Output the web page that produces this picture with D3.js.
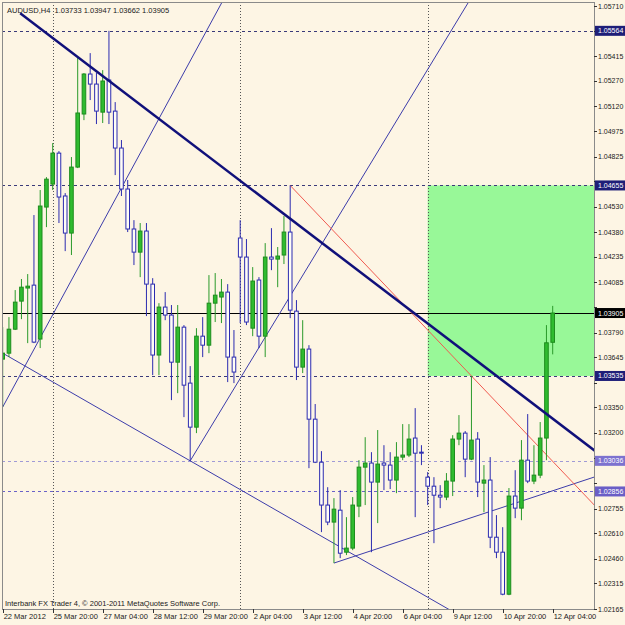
<!DOCTYPE html>
<html>
<head>
<meta charset="utf-8">
<script src="https://cdnjs.cloudflare.com/ajax/libs/d3/7.8.5/d3.min.js"></script>
<style>
    body { margin: 0; background: #fdf5e4; }
    svg { display: block; }
    text { font-family: "Liberation Sans", Arial, sans-serif; font-size: 7.5px; fill: #1a1a1a; white-space: pre; }
    .price { font-size: 7px; }
</style>
</head>
<body>
<svg width="625" height="625"></svg>
<script>
// AUDUSD H4 bars, oldest first (22 Mar 2012 .. 12 Apr 2012 04:00)
var barOpen = [1.03634, 1.03669, 1.03810, 1.03975, 1.04052, 1.04069, 1.03752, 1.04528, 1.04663, 1.04845,
    1.04593, 1.04375, 1.04763, 1.05075, 1.05310, 1.05251, 1.05086, 1.05275, 1.05092, 1.04875,
    1.04634, 1.04399, 1.04263, 1.04387, 1.04075, 1.03658, 1.03940, 1.03893, 1.03616, 1.03822,
    1.03493, 1.03234, 1.03769, 1.03716, 1.03963, 1.03999, 1.04028, 1.03646, 1.04346, 1.04234,
    1.03816, 1.04099, 1.03769, 1.04234, 1.04222, 1.04246, 1.04381, 1.03916, 1.03587, 1.03693,
    1.03281, 1.03028, 1.02776, 1.02676, 1.02746, 1.02499, 1.02523, 1.02770, 1.02999, 1.03023,
    1.02911, 1.03023, 1.03011, 1.02923, 1.03058, 1.03070, 1.03170, 1.03087, 1.02940, 1.02887,
    1.02834, 1.02823, 1.02917, 1.03164, 1.03199, 1.03046, 1.03164, 1.02905, 1.02923, 1.02587,
    1.02499, 1.02252, 1.02829, 1.02758, 1.03040, 1.02917, 1.02952, 1.03170, 1.03733];
var barHigh = [1.03822, 1.03881, 1.04040, 1.04105, 1.04134, 1.04481, 1.04628, 1.04704, 1.04904, 1.04857,
    1.04610, 1.04822, 1.05410, 1.05316, 1.05433, 1.05316, 1.05333, 1.05564, 1.05145, 1.04922,
    1.04687, 1.04451, 1.04434, 1.04434, 1.04110, 1.03963, 1.04028, 1.03952, 1.03952, 1.03834,
    1.03593, 1.03816, 1.03881, 1.04128, 1.04140, 1.04105, 1.04075, 1.03805, 1.04451, 1.04340,
    1.04175, 1.04116, 1.04316, 1.04404, 1.04293, 1.04475, 1.04655, 1.03981, 1.03863, 1.03716,
    1.03370, 1.03093, 1.02881, 1.02817, 1.02864, 1.02705, 1.02823, 1.03040, 1.03175, 1.03087,
    1.03217, 1.03128, 1.03087, 1.03146, 1.03252, 1.03252, 1.03346, 1.03128, 1.02970, 1.02940,
    1.02893, 1.02964, 1.03187, 1.03305, 1.03211, 1.03535, 1.03205, 1.03011, 1.03058, 1.02717,
    1.02646, 1.02876, 1.02981, 1.03158, 1.03311, 1.03128, 1.03264, 1.03834, 1.03947];
var barLow = [1.03352, 1.03646, 1.03805, 1.03869, 1.03728, 1.03728, 1.03699, 1.04410, 1.04628, 1.04434,
    1.04269, 1.04246, 1.04757, 1.05039, 1.05157, 1.05016, 1.05022, 1.05016, 1.04716, 1.04593,
    1.04381, 1.04187, 1.04116, 1.03887, 1.03540, 1.03540, 1.03863, 1.03393, 1.03434, 1.03293,
    1.03036, 1.03199, 1.03646, 1.03669, 1.03852, 1.03846, 1.03499, 1.03493, 1.03846, 1.03834,
    1.03769, 1.03699, 1.03646, 1.04157, 1.04057, 1.04193, 1.03875, 1.03511, 1.03552, 1.02993,
    1.03023, 1.02617, 1.02658, 1.02435, 1.02464, 1.02482, 1.02511, 1.02705, 1.02776, 1.02499,
    1.02670, 1.02864, 1.02870, 1.02846, 1.03040, 1.03058, 1.02705, 1.03011, 1.02776, 1.02552,
    1.02758, 1.02805, 1.02829, 1.03128, 1.02940, 1.03040, 1.02823, 1.02734, 1.02523, 1.02464,
    1.02246, 1.02246, 1.02699, 1.02687, 1.02905, 1.02899, 1.02934, 1.03040, 1.03662];
var barClose = [1.03669, 1.03810, 1.03969, 1.04057, 1.04063, 1.03734, 1.04534, 1.04692, 1.04845, 1.04587,
    1.04375, 1.04763, 1.05081, 1.05310, 1.05251, 1.05092, 1.05269, 1.05086, 1.04875, 1.04634,
    1.04399, 1.04263, 1.04387, 1.04075, 1.03658, 1.03940, 1.03893, 1.03616, 1.03822, 1.03481,
    1.03234, 1.03769, 1.03716, 1.03963, 1.04010, 1.04028, 1.03646, 1.03558, 1.04234, 1.03852,
    1.04093, 1.03769, 1.04234, 1.04222, 1.04240, 1.04381, 1.03922, 1.03587, 1.03693, 1.03281,
    1.03028, 1.02776, 1.02676, 1.02752, 1.02493, 1.02523, 1.02776, 1.02999, 1.03023, 1.02911,
    1.03017, 1.03011, 1.02923, 1.03058, 1.03070, 1.03164, 1.03081, 1.03081, 1.02887, 1.02834,
    1.02823, 1.02917, 1.03164, 1.03199, 1.03046, 1.03158, 1.02911, 1.02923, 1.02587, 1.02499,
    1.02252, 1.02829, 1.02758, 1.03040, 1.02917, 1.02952, 1.03170, 1.03730, 1.03905];

// time axis: one label every 8 bars
var timeLabels = ["22 Mar 2012", "25 Mar 20:00", "27 Mar 04:00", "28 Mar 12:00", "29 Mar 20:00", "2 Apr 04:00",
    "3 Apr 12:00", "4 Apr 20:00", "6 Apr 04:00", "9 Apr 12:00", "10 Apr 20:00", "12 Apr 04:00"];
var priceTicks = [1.05710, 1.05565, 1.05415, 1.05270, 1.05120, 1.04975, 1.04825, 1.04680, 1.04530, 1.04380,
    1.04235, 1.04085, 1.03940, 1.03790, 1.03645, 1.03495, 1.03350, 1.03200, 1.03050, 1.02905,
    1.02755, 1.02610, 1.02460, 1.02315, 1.02165];

var symbolName = "AUDUSD,H4";
var bidPrice = 1.03905;
var darkLevels = [1.05564, 1.04655, 1.03535];
var lightLevels = [1.03036, 1.02856];
var zonePrices = [1.04655, 1.03535];
var zoneStartBar = 68;
var weekStartBars = [8, 38, 68];

// trend lines: [bar, price] anchors, drawn as rays to the right
var mainTrend = [[2.8, 1.05668], [88, 1.03284]];
var riseTrendA = [[0, 1.03352], [30, 1.05387]];
var riseTrendB = [[30, 1.03036], [46, 1.04005]];
var fallTrend = [[0, 1.03669], [30, 1.03036]];
var supportTrend = [[53, 1.02435], [81, 1.02775]];
var redTrend = [[46, 1.04655], [75, 1.03535]];

var svg = d3.select("svg"),
    width = +svg.attr("width"),
    height = +svg.attr("height");

var plotL = 2, plotT = 2, plotR = 594, plotB = 609;

var x = d3.scaleLinear().domain([0, 88]).range([2.7, 552.7]);
var y = d3.scaleLinear().domain([1.02165, 1.05710]).range([609, 6]);

svg.append("rect").attr("width", width).attr("height", height).attr("fill", "#fdf5e4");

svg.append("clipPath").attr("id", "plot")
    .append("rect").attr("x", plotL).attr("y", plotT).attr("width", plotR - plotL).attr("height", plotB - plotT);

var plot = svg.append("g").attr("clip-path", "url(#plot)");

// rectangle zone
plot.append("rect")
    .attr("x", x(zoneStartBar))
    .attr("y", y(zonePrices[0]))
    .attr("width", plotR - x(zoneStartBar))
    .attr("height", y(zonePrices[1]) - y(zonePrices[0]))
    .attr("fill", "#98f898");

// week separators
plot.selectAll(".sep")
    .data(weekStartBars)
    .enter().append("line")
    .attr("x1", d => Math.round(x(d)) + 0.5).attr("x2", d => Math.round(x(d)) + 0.5)
    .attr("y1", plotT).attr("y2", plotB)
    .attr("stroke", "#555")
    .attr("stroke-dasharray", "1,2");

// horizontal levels
plot.selectAll(".lvl")
    .data(darkLevels)
    .enter().append("line")
    .attr("x1", plotL).attr("x2", plotR)
    .attr("y1", d => Math.round(y(d)) + 0.5).attr("y2", d => Math.round(y(d)) + 0.5)
    .attr("stroke", "#3a3a7a")
    .attr("stroke-dasharray", "3,3");

plot.selectAll(".lvl2")
    .data(lightLevels)
    .enter().append("line")
    .attr("x1", plotL).attr("x2", plotR)
    .attr("y1", d => Math.round(y(d)) + 0.5).attr("y2", d => Math.round(y(d)) + 0.5)
    .attr("stroke", (d, i) => i == 0 ? "#a09ad6" : "#6a62c8")
    .attr("stroke-dasharray", "3,3");

plot.append("line")
    .attr("x1", plotL).attr("x2", plotR)
    .attr("y1", Math.round(y(bidPrice)) + 0.5).attr("y2", Math.round(y(bidPrice)) + 0.5)
    .attr("stroke", "#000");

// rays
function drawRay(anchors, color, w) {
    var b1 = anchors[0][0], p1 = anchors[0][1];
    var slope = (anchors[1][1] - p1) / (anchors[1][0] - b1);
    var bEnd = x.invert(plotR + 10);
    plot.append("line")
        .attr("x1", x(b1)).attr("y1", y(p1))
        .attr("x2", x(bEnd)).attr("y2", y(p1 + slope * (bEnd - b1)))
        .attr("stroke", color)
        .attr("stroke-width", w);
}
drawRay(riseTrendA, "#3c3caa", 1);
drawRay(riseTrendB, "#3c3caa", 1);
drawRay(fallTrend, "#3c3caa", 1);
drawRay(supportTrend, "#3c3caa", 1);
drawRay(redTrend, "#f05a50", 1);

// candles
var bars = d3.range(barOpen.length).map(function (i) {
    return { i: i, o: barOpen[i], h: barHigh[i], l: barLow[i], c: barClose[i], up: barClose[i] > barOpen[i] };
});

var candle = plot.append("g").selectAll("g")
    .data(bars)
    .enter().append("g");

candle.append("line")
    .attr("x1", d => x(d.i)).attr("x2", d => x(d.i))
    .attr("y1", d => y(d.h)).attr("y2", d => y(d.l))
    .attr("stroke", d => d.up ? "#2a9a2a" : "#2b2bb0");

candle.append("rect")
    .attr("x", d => x(d.i) - 1.8)
    .attr("width", 3.6)
    .attr("y", d => y(Math.max(d.o, d.c)))
    .attr("height", d => Math.max(1, Math.abs(y(d.o) - y(d.c))))
    .attr("fill", d => d.up ? "#2fbb2f" : "#fffdf6")
    .attr("stroke", d => d.up ? "#1d8c1d" : "#2b2bb0")
    .attr("stroke-width", 1);

drawRay(mainTrend, "#10107a", 2.5);

// frame
svg.append("rect")
    .attr("x", plotL + 0.5).attr("y", plotT + 0.5)
    .attr("width", plotR - plotL).attr("height", plotB - plotT)
    .attr("fill", "none")
    .attr("stroke", "#8a8a8a");

// price boxes
var boxes = darkLevels.map(p => ({ p: p, color: "#1e1e78" }))
    .concat([{ p: bidPrice, color: "#000" }])
    .concat(lightLevels.map((p, i) => ({ p: p, color: i == 0 ? "#7d72cf" : "#6a5ec6" })));

// price axis (labels hidden where a box sits on them)
var pAxis = svg.append("g");
pAxis.selectAll("line")
    .data(priceTicks)
    .enter().append("line")
    .attr("x1", plotR).attr("x2", plotR + 3)
    .attr("y1", d => Math.round(y(d)) + 0.5).attr("y2", d => Math.round(y(d)) + 0.5)
    .attr("stroke", "#333");
pAxis.selectAll("text")
    .data(priceTicks.filter(t => boxes.every(b => Math.abs(y(b.p) - y(t)) > 9)))
    .enter().append("text")
    .attr("class", "price")
    .attr("x", plotR + 4)
    .attr("y", d => y(d) + 2.5)
    .text(d => d.toFixed(5));

var box = svg.selectAll(".box")
    .data(boxes)
    .enter().append("g");
box.append("rect")
    .attr("x", plotR + 1).attr("width", width - plotR)
    .attr("y", d => y(d.p) - 5).attr("height", 10)
    .attr("fill", d => d.color);
box.append("text")
    .attr("class", "price")
    .attr("x", plotR + 4)
    .attr("y", d => y(d.p) + 2.5)
    .style("fill", "#fff")
    .text(d => d.p.toFixed(5));

// time axis
var tAxis = svg.append("g");
tAxis.selectAll("line")
    .data(timeLabels)
    .enter().append("line")
    .attr("x1", (d, i) => Math.round(x(i * 8)) + 0.5).attr("x2", (d, i) => Math.round(x(i * 8)) + 0.5)
    .attr("y1", plotB).attr("y2", plotB + 4)
    .attr("stroke", "#333");
tAxis.selectAll("text")
    .data(timeLabels)
    .enter().append("text")
    .attr("x", (d, i) => x(i * 8) + 1)
    .attr("y", 619)
    .text(d => d);

// header and footer
var last = bars[bars.length - 1];
svg.append("text")
    .attr("x", 7).attr("y", 13)
    .text(symbolName + "  " + [last.o, last.h, last.l, last.c].map(v => v.toFixed(5)).join(" "));

svg.append("text")
    .attr("x", 5).attr("y", 606)
    .text("Interbank FX Trader 4, \u00a9 2001-2011 MetaQuotes Software Corp.");
</script>
</body>
</html>
